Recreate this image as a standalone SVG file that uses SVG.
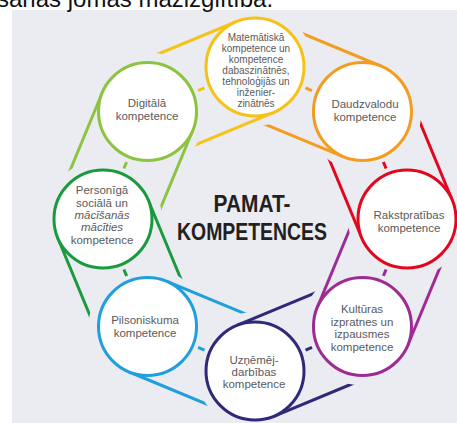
<svg xmlns="http://www.w3.org/2000/svg" xmlns:xlink="http://www.w3.org/1999/xlink" width="457" height="423" viewBox="0 0 457 423">
<style>
.bg{fill:#ebebf2}
.ring{fill:#ffffff;stroke-width:3}
.t{font-family:"Liberation Sans",Arial,sans-serif;font-size:11.5px;fill:#5a5a5c;text-anchor:middle}
.ts{font-size:10px}
.it{font-style:italic}
.belt line{stroke-width:3;fill:none}
.title{font-family:"Liberation Sans",Arial,sans-serif;font-weight:bold;font-size:23px;fill:#231f20;text-anchor:middle}
.top{font-family:"Liberation Sans",Arial,sans-serif;font-size:24px;fill:#111}
</style>
<defs>
<mask id="m" maskUnits="userSpaceOnUse" x="-100" y="-100" width="400" height="200">
<rect x="-100" y="-100" width="400" height="200" fill="#fff"/>
<circle cx="116.34" cy="0" r="59" fill="#000"/>
</mask>
<g id="belt" class="belt">
<g mask="url(#m)">
<line x1="0" y1="-49" x2="116.34" y2="-49"/>
<line x1="0" y1="49" x2="116.34" y2="49"/>
</g>
<line x1="54.7" y1="0" x2="61.7" y2="0"/>
</g>
</defs>
<rect width="457" height="423" fill="#fff"/>
<rect class="bg" x="12" y="10" width="445" height="413"/>
<text class="top" x="-3" y="7">sanās jomās mazizglītībā.</text>
<g id="connectors">
<use xlink:href="#belt" stroke="#f5c215" transform="translate(255,67) rotate(157.5)"/>
<use xlink:href="#belt" stroke="#f29d1f" transform="translate(362.48,111.52) rotate(-157.5)"/>
<use xlink:href="#belt" stroke="#e2071d" transform="translate(407,219) rotate(-112.5)"/>
<use xlink:href="#belt" stroke="#9e2a93" transform="translate(362.48,326.48) rotate(-67.5)"/>
<use xlink:href="#belt" stroke="#30297a" transform="translate(255,371) rotate(-22.5)"/>
<use xlink:href="#belt" stroke="#1f9fdb" transform="translate(147.52,326.48) rotate(22.5)"/>
<use xlink:href="#belt" stroke="#1a9a3d" transform="translate(103,219) rotate(67.5)"/>
<use xlink:href="#belt" stroke="#8cc33f" transform="translate(147.52,111.52) rotate(112.5)"/>
</g>
<g id="n-mat">
<circle class="ring" cx="255" cy="67" r="49" stroke="#f5c215"/>
<text class="t ts" x="256" y="41">Matemātiskā</text>
<text class="t ts" x="256" y="52">kompetence un</text>
<text class="t ts" x="256" y="63">kompetence</text>
<text class="t ts" x="256" y="74">dabaszinātnēs,</text>
<text class="t ts" x="256" y="85">tehnoloģijās un</text>
<text class="t ts" x="256" y="96">inženier-</text>
<text class="t ts" x="256" y="107">zinātnēs</text>
</g>
<g id="n-daudz">
<circle class="ring" cx="362.48" cy="111.52" r="49" stroke="#f29d1f"/>
<text class="t" x="365" y="108">Daudzvalodu</text>
<text class="t" x="365" y="121">kompetence</text>
</g>
<g id="n-rakst">
<circle class="ring" cx="407" cy="219" r="49" stroke="#e2071d"/>
<text class="t" x="409" y="219">Rakstpratības</text>
<text class="t" x="409" y="232">kompetence</text>
</g>
<g id="n-kult">
<circle class="ring" cx="362.48" cy="326.48" r="49" stroke="#9e2a93"/>
<text class="t" x="362" y="313">Kultūras</text>
<text class="t" x="362" y="326">izpratnes un</text>
<text class="t" x="362" y="338">izpausmes</text>
<text class="t" x="362" y="351">kompetence</text>
</g>
<g id="n-uzn">
<circle class="ring" cx="255" cy="371" r="49" stroke="#30297a"/>
<text class="t" x="254" y="364">Uzņēmēj-</text>
<text class="t" x="254" y="376">darbības</text>
<text class="t" x="254" y="388">kompetence</text>
</g>
<g id="n-pils">
<circle class="ring" cx="147.52" cy="326.48" r="49" stroke="#1f9fdb"/>
<text class="t" x="145" y="324">Pilsoniskuma</text>
<text class="t" x="145" y="337">kompetence</text>
</g>
<g id="n-pers">
<circle class="ring" cx="103" cy="219" r="49" stroke="#1a9a3d"/>
<text class="t" x="102" y="194">Personīgā</text>
<text class="t" x="102" y="207">sociālā un</text>
<text class="t it" x="102" y="219">mācīšanās</text>
<text class="t it" x="102" y="231">mācīties</text>
<text class="t" x="102" y="244">kompetence</text>
</g>
<g id="n-dig">
<circle class="ring" cx="147.52" cy="111.52" r="49" stroke="#8cc33f"/>
<text class="t" x="147" y="107">Digitālā</text>
<text class="t" x="147" y="120">kompetence</text>
</g>
<g id="center">
<text class="title" x="252" y="212" textLength="77" lengthAdjust="spacingAndGlyphs">PAMAT-</text>
<text class="title" x="252" y="240" textLength="150" lengthAdjust="spacingAndGlyphs">KOMPETENCES</text>
</g>
</svg>
